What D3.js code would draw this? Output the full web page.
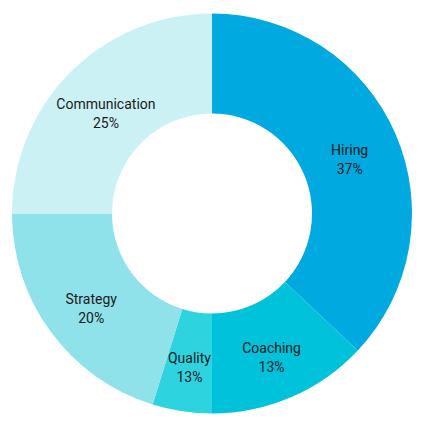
<!DOCTYPE html>
<html><head><meta charset="utf-8">
<script src="https://cdn.jsdelivr.net/npm/d3@7"></script>
<style>html,body{margin:0;padding:0;background:#fff;}</style>
</head><body>
<svg id="c" width="424" height="426"></svg>
<script>
const categories = ["Hiring", "Coaching", "Quality", "Strategy", "Communication"];
const values = [37, 13, 4.8, 20.2, 25];
const labels = ["37%", "13%", "13%", "20%", "25%"];
const colors = ["#00a9df", "#00c2db", "#2dd4e0", "#8fe1ea", "#ccf1f5"];

const svg = d3.select("#c");
const cx = 212, cy = 213.5, R = 200, r = 100;
const g = svg.append("g").attr("transform", `translate(${cx},${cy})`);
const pie = d3.pie().sort(null).value(d => d.v);
const data = pie(categories.map((c, i) => ({c, v: values[i], l: labels[i], col: colors[i]})));
const arc = d3.arc().innerRadius(r).outerRadius(R);
g.selectAll("path").data(data).join("path").attr("d", arc).attr("fill", d => d.data.col);
const t = g.selectAll("text").data(data).join("text")
  .attr("transform", d => { const [x, y] = arc.centroid(d); return `translate(${x},${y + 1.5})`; })
  .attr("text-anchor", "middle")
  .style("font-family", "Roboto, sans-serif").style("font-size", "14px")
  .style("font-variant-ligatures", "none").attr("fill", "#1a1a1a");
t.append("tspan").attr("x", 0).attr("y", 0).text(d => d.data.c);
t.append("tspan").attr("x", 0).attr("y", 19).text(d => d.data.l);
</script>
</body></html>
